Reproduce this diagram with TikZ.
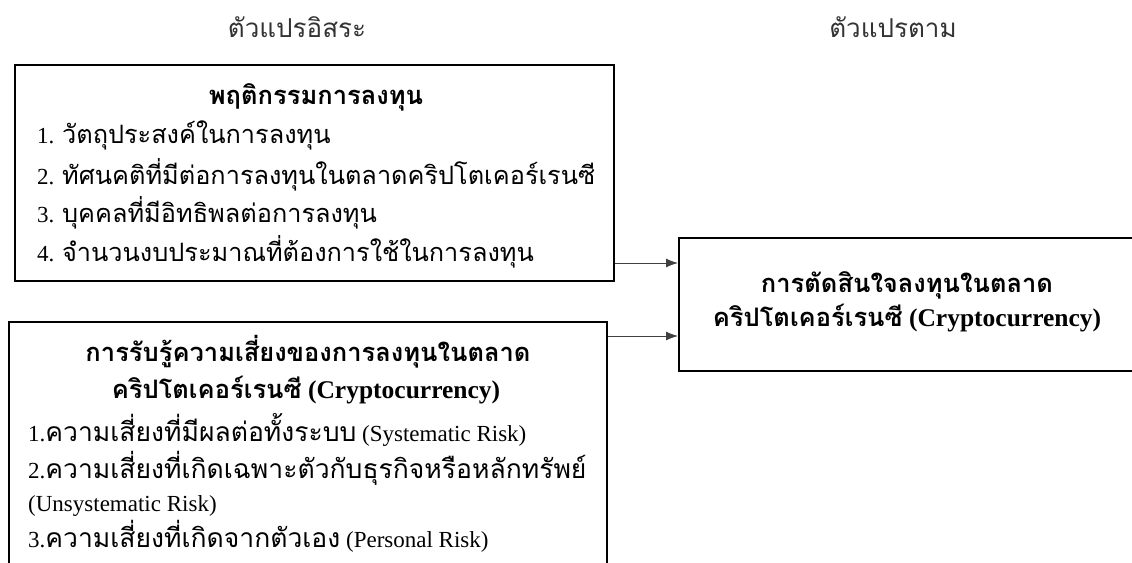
\documentclass[tikz,border=0pt]{standalone}
\usepackage{fontspec}
\setmainfont{Liberation Serif}
\newfontfamily\thai[Script=Thai]{Loma}
\newcommand\thx[2]{{\thai\fontsize{#1}{#1}\selectfont #2}}
\usetikzlibrary{arrows.meta}
\tikzset{
  box/.style={draw=black, line width=2pt, rectangle, inner sep=0pt, anchor=north west},
  arr/.style={draw=black!75, line width=1pt, -{Latex[length=12pt,width=9pt]}},
  head/.style={font=\thai\fontsize{26}{30}\selectfont, text=black!80, inner sep=0pt},
  ttl/.style={font=\fontsize{25.5}{29}\selectfont\bfseries, inner sep=0pt},
  item/.style={font=\fontsize{23}{27}\selectfont, inner sep=0pt, anchor=west},
}
\begin{document}
\begin{tikzpicture}[x=1pt,y=-1pt]
\clip (0,0) rectangle (1132,562);
\fill[white] (0,0) rectangle (1132,562);
\node[head] (h1) at (297,27) {ตัวแปรอิสระ};
\node[head] (h2) at (893,27) {ตัวแปรตาม};
% top box
\node[box, minimum width=599pt, minimum height=216pt] (b1) at (14,64) {};
\node[ttl] (t1) at (316,97) {\thx{25.5}{พฤติกรรมการลงทุน}};
\node[item] (i1) at (37,135) {1. \thx{25.3}{วัตถุประสงค์ในการลงทุน}};
\node[item] (i2) at (37,175) {2. \thx{25.3}{ทัศนคติที่มีต่อการลงทุนในตลาดคริปโตเคอร์เรนซี}};
\node[item] (i3) at (37,213) {3. \thx{25.3}{บุคคลที่มีอิทธิพลต่อการลงทุน}};
\node[item] (i4) at (37,252) {4. \thx{25.3}{จำนวนงบประมาณที่ต้องการใช้ในการลงทุน}};
% bottom box
\node[box, minimum width=598pt, minimum height=280pt] (b2) at (8,321) {};
\node[ttl] (t2a) at (308,352) {\thx{25.5}{การรับรู้ความเสี่ยงของการลงทุนในตลาด}};
\node[ttl] (t2b) at (306,390) {\thx{25.5}{คริปโตเคอร์เรนซี} (Cryptocurrency)};
\node[item] (j1) at (28,430) {1.\thx{26.5}{ความเสี่ยงที่มีผลต่อทั้งระบบ} (Systematic Risk)};
\node[item] (j2) at (28,468) {2.\thx{26.5}{ความเสี่ยงที่เกิดเฉพาะตัวกับธุรกิจหรือหลักทรัพย์}};
\node[item] (j3) at (28,506) {(Unsystematic Risk)};
\node[item] (j4) at (28,536) {3.\thx{26.5}{ความเสี่ยงที่เกิดจากตัวเอง} (Personal Risk)};
% right box
\node[box, minimum width=470pt, minimum height=133pt] (r) at (678,237) {};
\node[ttl] (r1) at (907,285) {\thx{25.5}{การตัดสินใจลงทุนในตลาด}};
\node[ttl] (r2) at (907,318) {\thx{25.5}{คริปโตเคอร์เรนซี} (Cryptocurrency)};
% connectors
\coordinate (a1) at (0,263);
\coordinate (a2) at (0,336);
\draw[arr] (b1.east |- a1) -- (r.west |- a1);
\draw[arr] (b2.east |- a2) -- (r.west |- a2);
\end{tikzpicture}
\end{document}
